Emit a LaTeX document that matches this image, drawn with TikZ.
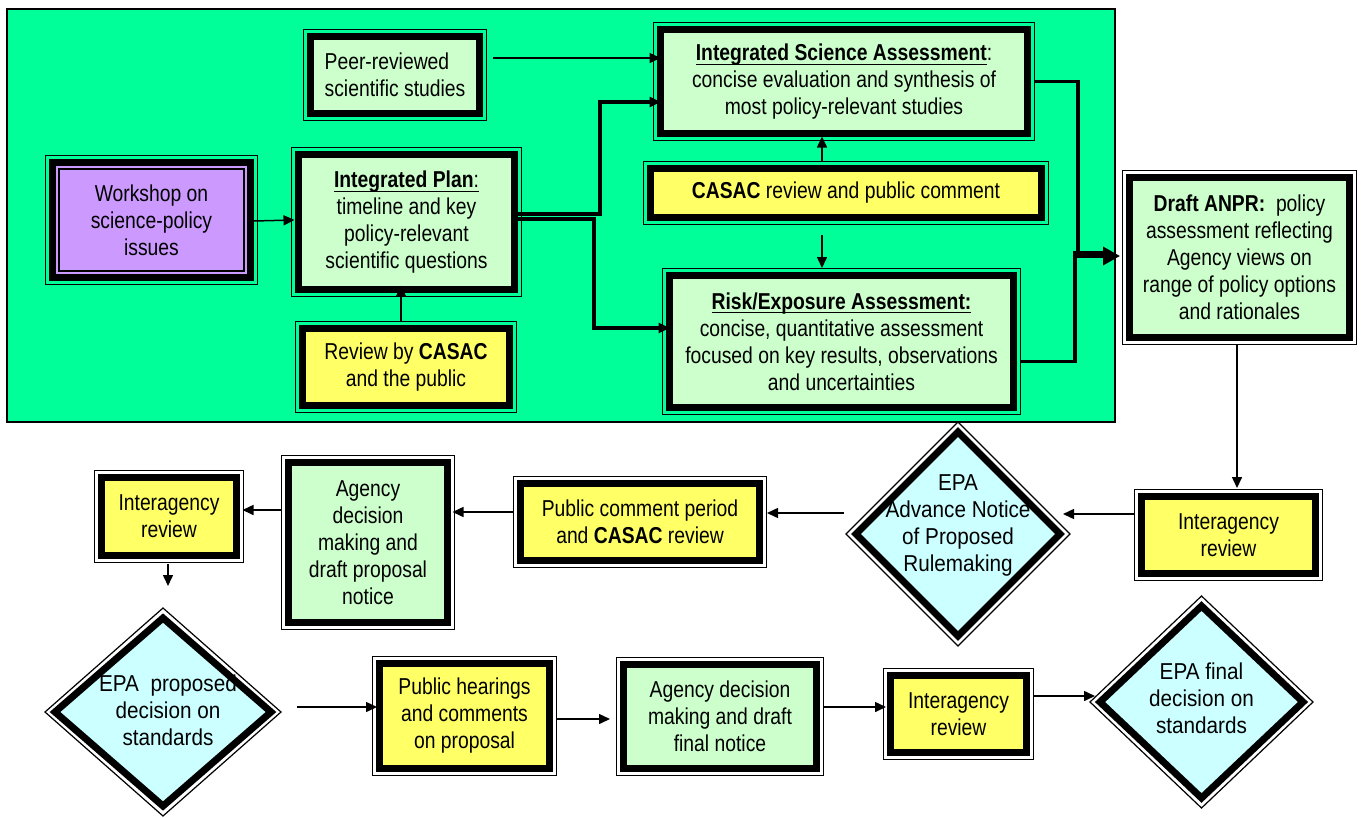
\documentclass[tikz,border=0pt]{standalone}
\usepackage{fontspec}
\setmainfont[FakeStretch=0.84]{Liberation Sans}
\newfontfamily\diafont[FakeStretch=0.9]{Liberation Sans}
\usetikzlibrary{shapes.geometric,arrows.meta}
\definecolor{bggreen}{HTML}{00FF99}
\definecolor{lgreen}{HTML}{CCFFCC}
\definecolor{lyellow}{HTML}{FFFF66}
\definecolor{lpurple}{HTML}{CC99FF}
\definecolor{lcyan}{HTML}{CCFFFF}
\newcommand{\undl}[1]{\underline{\raisebox{0pt}[\height][2pt]{#1}}}
\begin{document}
\begin{tikzpicture}[x=1pt, y=-1pt, font=\fontsize{23}{27}\selectfont, >={Triangle[length=11pt,width=10pt]},
  box/.style={draw, line width=7pt, inner sep=2pt, outer sep=0pt, align=center},
  wh/.style 2 args={minimum width=#1, minimum height=#2},
  diam/.style={shape=diamond, draw, line width=7pt, fill=lcyan, inner sep=0pt, outer sep=0pt},
  dtext/.style={align=center, inner sep=0pt, font=\diafont\fontsize{23}{27}\selectfont},
  frame/.style={line width=1.2pt},
  link/.style={line width=1.5pt, ->},
  bus/.style={line width=3.5pt}]
 \useasboundingbox (0,0) rectangle (1362,817);
 \draw[fill=bggreen, line width=1.5pt] (7,9) rectangle (1115,422);
 \node[box, fill=lgreen, wh={169}{77}, align=left] (Peer) at (395,75) {Peer-reviewed\\scientific studies};
 \node[box, fill=lgreen, wh={367}{104}] (ISA) at (844,81.5) {\undl{\textbf{Integrated Science Assessment}}:\\concise evaluation and synthesis of\\most policy-relevant studies};
 \node[box, fill=lpurple, wh={198}{115}] (Work) at (151.5,220) {Workshop on\\science-policy\\issues};
 \node[box, fill=lgreen, wh={216}{135}] (Plan) at (406.5,222) {\undl{\textbf{Integrated Plan}:}\\timeline and key\\policy-relevant\\scientific questions};
 \node[box, fill=lyellow, wh={207}{77}] (Review) at (406,367) {Review by \textbf{CASAC}\\and the public};
 \node[box, fill=lyellow, wh={391}{49}] (CASACrev) at (846,193) {\textbf{CASAC} review and public comment};
 \node[box, fill=lgreen, wh={344}{132}] (Risk) at (841.5,341.5) {\undl{\textbf{Risk/Exposure Assessment:}}\\concise, quantitative assessment\\focused on key results, observations\\and uncertainties};
 \node[box, fill=lgreen, wh={220}{160}] (Draft) at (1239.5,257.5) {\textbf{Draft ANPR:}\ \ policy\\assessment reflecting\\Agency views on\\range of policy options\\and rationales};
 \node[box, fill=lyellow, wh={174}{77}] (InterR) at (1228.5,535) {Interagency\\review};
 \node[diam, minimum width=204, minimum height=204] (ANPR) at (958,534) {};
 \node[box, fill=lyellow, wh={239}{77}] (PubCom) at (640,522) {Public comment period\\and \textbf{CASAC} review};
 \node[box, fill=lgreen, wh={159}{160}] (AgProp) at (368,542.5) {Agency\\decision\\making and\\draft proposal\\notice};
 \node[box, fill=lyellow, wh={135}{78}] (InterL) at (169,516.5) {Interagency\\review};
 \node[diam, minimum width=216, minimum height=188] (PropDec) at (163,712) {};
 \node[box, fill=lyellow, wh={170}{105}] (Hear) at (464.5,716) {Public hearings\\and comments\\on proposal};
 \node[box, fill=lgreen, wh={193}{104}] (AgFin) at (720,716.5) {Agency decision\\making and draft\\final notice};
 \node[box, fill=lyellow, wh={136}{77}] (InterB) at (958.5,714) {Interagency\\review};
 \node[diam, minimum width=203, minimum height=192] (FinDec) at (1201.5,702) {};
 \node[dtext] (ANPRt) at ([shift={(0,-9)}]ANPR.center) {EPA\\Advance Notice\\of Proposed\\Rulemaking};
 \node[dtext] (PropDect) at ([shift={(5,-2)}]PropDec.center) {EPA~~proposed\\decision on\\standards};
 \node[dtext] (FinDect) at ([shift={(0,-3.5)}]FinDec.center) {EPA final\\decision on\\standards};
 \foreach \n in {Peer,ISA,Work,Plan,Review,CASACrev,Risk,Draft,InterR,PubCom,AgProp,InterL,Hear,AgFin,InterB}
  \draw[frame] ([shift={(-7,-7)}]\n.north west) rectangle ([shift={(7,7)}]\n.south east);
 \foreach \n in {ANPR,PropDec,FinDec}
  \draw[frame] ([shift={(-10,0)}]\n.west) -- ([shift={(0,-10)}]\n.north) -- ([shift={(10,0)}]\n.east) -- ([shift={(0,10)}]\n.south) -- cycle;
 \draw[frame] ([shift={(6.5,6.5)}]Work.north west) rectangle ([shift={(-6.5,-6.5)}]Work.south east);
 \path (600,102) coordinate (B1) (594,328) coordinate (B2) (1078,256) coordinate (J1) (1075,253) coordinate (J2);
 \draw[link] ([shift={(13.5,-17)}]Peer.east) -- ([shift={(0,-23.5)}]ISA.west);
 \draw[link] ([shift={(3,1)}]Work.east) -- ([shift={(-4,-2)}]Plan.west);
 \draw[link] ([shift={(-5,-7.5)}]Review.north) -- ([shift={(-5.5,-4)}]Plan.south);
 \draw[bus,->] ([shift={(0,-8)}]Plan.east) -| (B1) -- ([shift={(0,20.5)}]ISA.west);
 \draw[bus,->] ([shift={(0,-3)}]Plan.east) -| (B2) -- ([shift={(0,-13.5)}]Risk.west);
 \draw[link] ([shift={(-24,-7.5)}]CASACrev.north) -- ([shift={(-22,3)}]ISA.south);
 \draw[link] ([shift={(-24,17.5)}]CASACrev.south) -- ([shift={(-19.5,-7.5)}]Risk.north);
 \draw[bus,-{Triangle[length=17pt,width=18pt]}] ([shift={(7.5,0)}]ISA.east) -| (J1) -- ([shift={(-9.5,-1.5)}]Draft.west);
 \draw[bus] ([shift={(7.5,20)}]Risk.east) -| (J2) -- ([shift={(-21,-4.5)}]Draft.west);
 \draw[link] ([shift={(-2.5,7.5)}]Draft.south) -- ([shift={(8.5,-8.5)}]InterR.north);
 \draw[link] ([shift={(-7.5,-21)}]InterR.west) -- ([shift={(3,-20)}]ANPR.east);
 \draw[link] ([shift={(-12,-21)}]ANPR.west) -- ([shift={(7.5,-9)}]PubCom.east);
 \draw[link] ([shift={(-7.5,-10)}]PubCom.west) -- ([shift={(5,-30.5)}]AgProp.east);
 \draw[link] ([shift={(-7.5,-32.5)}]AgProp.west) -- ([shift={(6,-6.5)}]InterL.east);
 \draw[link] ([shift={(-1,8)}]InterL.south) -- ([shift={(5,-32)}]PropDec.north);
 \draw[link] ([shift={(26,-5)}]PropDec.east) -- ([shift={(-2.5,-9)}]Hear.west);
 \draw[link] ([shift={(7.5,3)}]Hear.east) -- ([shift={(-13.5,2.5)}]AgFin.west);
 \draw[link] ([shift={(7.5,-9.5)}]AgFin.east) -- ([shift={(-4.5,-7)}]InterB.west);
 \draw[link] ([shift={(7.5,-18)}]InterB.east) -- ([shift={(-5,-6)}]FinDec.west);
\end{tikzpicture}
\end{document}
